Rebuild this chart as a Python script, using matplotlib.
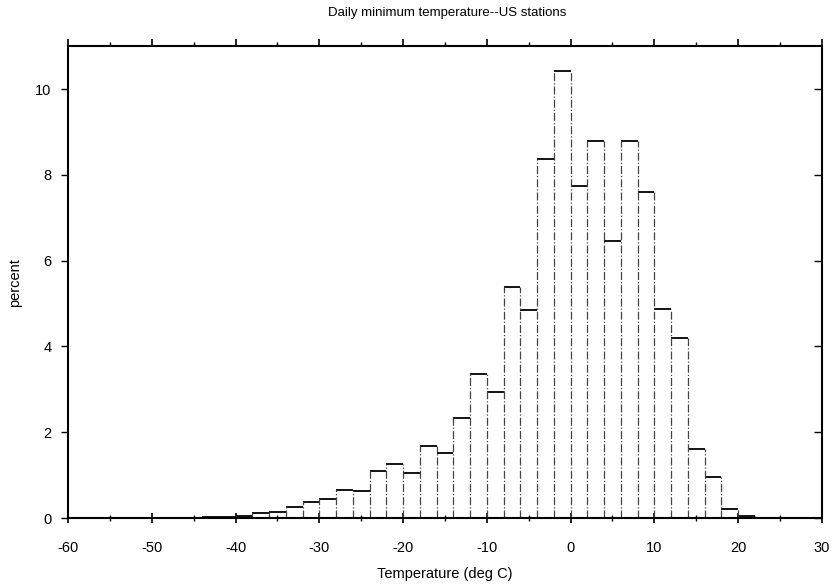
import numpy as np
import matplotlib
matplotlib.use("Agg")
import matplotlib.pyplot as plt
from matplotlib.lines import TICKLEFT, TICKUP

# histogram of daily minimum temperature, 2 deg C bins
bin_left = list(range(-44, 22, 2))
bin_width = 2
percent = [0.02, 0.03, 0.05, 0.12, 0.14, 0.26, 0.38, 0.44, 0.66, 0.62,
           1.10, 1.26, 1.06, 1.68, 1.52, 2.32, 3.36, 2.94, 5.38, 4.86,
           8.38, 10.42, 7.74, 8.80, 6.45, 8.80, 7.60, 4.88, 4.20, 1.60,
           0.96, 0.20, 0.04]

title = "Daily minimum temperature--US stations"
xlabel = "Temperature (deg C)"
ylabel = "percent"
xticks = [-60, -50, -40, -30, -20, -10, 0, 10, 20, 30]
yticks = [0, 2, 4, 6, 8, 10]

plt.rcParams['font.family'] = ['Liberation Sans', 'DejaVu Sans']
plt.rcParams['axes.unicode_minus'] = False

fig = plt.figure(figsize=(8.34, 5.84), dpi=100)
ax = fig.add_axes([0.0815, 0.113, 0.904, 0.808])

left = np.array(bin_left, dtype=float)
h = np.array(percent)
right = left + bin_width

# bar bodies, then solid tops and dash-dot sides like the scanned original
ax.bar(left, h, width=bin_width, align='edge', color='white', edgecolor='none')
ax.hlines(h, left, right, colors='black', linewidth=1.3)
edges = np.append(left, right[-1])
side_h = np.maximum(np.append(h, 0), np.append(0, h))
ax.vlines(edges, 0, side_h, colors='#444444', linewidth=0.9, linestyles='-.')

ax.set_xlim(-60, 30)
ax.set_ylim(0, 11)
ax.set_xticks(xticks)
ax.set_xticks(np.arange(-55, 30, 10), minor=True)
ax.set_yticks(yticks)

ax.tick_params(axis='x', which='major', direction='inout', length=7, width=1.2,
               labelsize=10.5, top=True, pad=13)
ax.tick_params(axis='x', which='minor', direction='inout', length=4, width=1.0, top=True)
ax.tick_params(axis='y', which='major', direction='out', length=5, width=1.0,
               labelsize=10.5, right=True, pad=7)
# top ticks point outward (up), right ticks point inward (left)
for t in ax.xaxis.get_major_ticks():
    t.tick2line.set_marker(TICKUP)
    t.tick2line.set_markersize(5)
for t in ax.xaxis.get_minor_ticks():
    t.tick2line.set_marker(TICKUP)
    t.tick2line.set_markersize(3)
for t in ax.yaxis.get_major_ticks():
    t.tick2line.set_marker(TICKLEFT)
    t.tick2line.set_markersize(6)

for s in ax.spines.values():
    s.set_linewidth(1.5)

fig.text(0.536, 1 - 13 / 584, title, fontsize=9.5, ha='center', va='center')
ax.set_xlabel(xlabel, fontsize=10.5, labelpad=9)
ax.set_ylabel(ylabel, fontsize=10.5, labelpad=9.5)

fig.savefig("out.png", dpi=100)
